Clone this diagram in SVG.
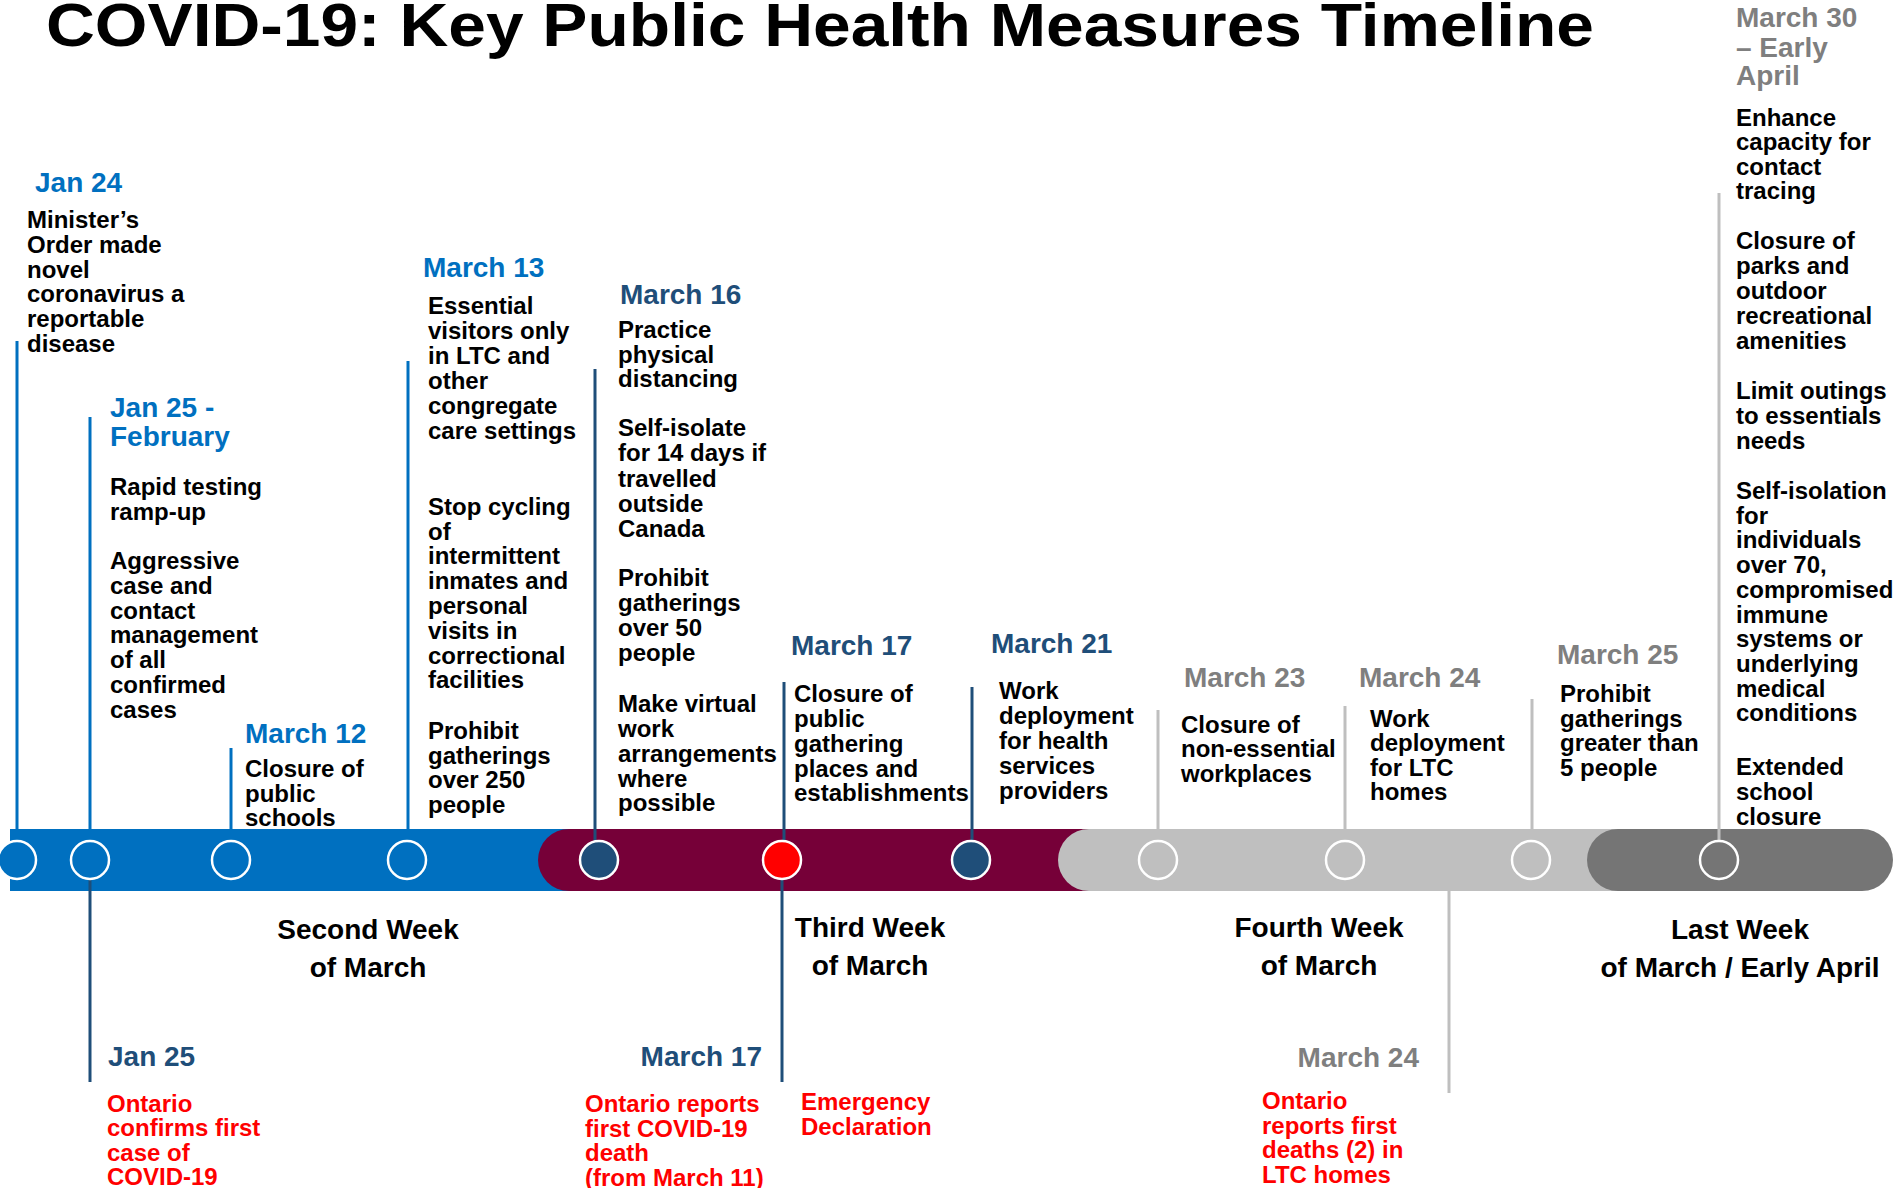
<svg xmlns="http://www.w3.org/2000/svg" width="1901" height="1188" viewBox="0 0 1901 1188">
<style>
text{font-family:"Liberation Sans",Arial,sans-serif;font-weight:700}
.title{font-size:61px;fill:#000}
.b{font-size:24px;fill:#000}
.d{font-size:28px}
.c1{fill:#0070C0}
.c2{fill:#1F4E79}
.c3{fill:#7F7F7F}
.red{font-size:24px;fill:#FF0000}
.wk{font-size:28px;fill:#000;text-anchor:middle}
.ln{stroke-width:3;fill:none}
.lb{stroke:#0070C0}
.ld{stroke:#1F4E79}
.lg{stroke:#BFBFBF}
.dot{stroke:#fff;stroke-width:2.5}
</style>
<rect width="1901" height="1188" fill="#fff"/>
<text class="title" x="46" y="46" textLength="1548" lengthAdjust="spacingAndGlyphs">COVID-19: Key Public Health Measures Timeline</text>

<g id="bar">
<rect x="10" y="829" width="600" height="62" fill="#0070C0"/>
<rect x="538" y="829" width="590" height="62" rx="31" fill="#760038"/>
<rect x="1058" y="829" width="600" height="62" rx="31" fill="#BFBFBF"/>
<rect x="1587" y="829" width="306" height="62" rx="31" fill="#757575"/>
</g>

<g id="connectors">
<line class="ln lb" x1="17" y1="341" x2="17" y2="860"/>
<line class="ln lb" x1="90" y1="417" x2="90" y2="860"/>
<line class="ln lb" x1="231" y1="748" x2="231" y2="860"/>
<line class="ln lb" x1="408" y1="361" x2="408" y2="860"/>
<line class="ln ld" x1="595" y1="369" x2="595" y2="860"/>
<line class="ln ld" x1="784" y1="682" x2="784" y2="860"/>
<line class="ln ld" x1="972" y1="687" x2="972" y2="860"/>
<line class="ln lg" x1="1158" y1="710" x2="1158" y2="860"/>
<line class="ln lg" x1="1345" y1="706" x2="1345" y2="860"/>
<line class="ln lg" x1="1532" y1="699" x2="1532" y2="860"/>
<line class="ln lg" x1="1719" y1="193" x2="1719" y2="860"/>
<line class="ln ld" x1="90" y1="860" x2="90" y2="1082"/>
<line class="ln ld" x1="782" y1="860" x2="782" y2="1082"/>
<line class="ln lg" x1="1449" y1="891" x2="1449" y2="1093"/>
</g>

<g id="weeks">
<text class="wk"><tspan x="368" y="939">Second Week</tspan><tspan x="368" y="977">of March</tspan></text>
<text class="wk"><tspan x="870" y="937">Third Week</tspan><tspan x="870" y="975">of March</tspan></text>
<text class="wk"><tspan x="1319" y="937">Fourth Week</tspan><tspan x="1319" y="975">of March</tspan></text>
<text class="wk"><tspan x="1740" y="939">Last Week</tspan><tspan x="1740" y="977">of March / Early April</tspan></text>
</g>

<g id="jan24">
<circle class="dot" cx="17" cy="860" r="19" fill="#0070C0"/>
<text class="d c1" x="35" y="192">Jan 24</text>
<text class="b"><tspan x="27" y="228">Minister’s</tspan><tspan x="27" y="252.8">Order made</tspan><tspan x="27" y="277.6">novel</tspan><tspan x="27" y="302.4">coronavirus a</tspan><tspan x="27" y="327.2">reportable</tspan><tspan x="27" y="352">disease</tspan></text>
</g>

<g id="jan25feb">
<circle class="dot" cx="90" cy="860" r="19" fill="#0070C0"/>
<text class="d c1"><tspan x="110" y="417">Jan 25 -</tspan><tspan x="110" y="446">February</tspan></text>
<text class="b"><tspan x="110" y="495">Rapid testing</tspan><tspan x="110" y="519.6">ramp-up</tspan>
<tspan x="110" y="569.3">Aggressive</tspan><tspan x="110" y="594">case and</tspan><tspan x="110" y="618.7">contact</tspan><tspan x="110" y="643.4">management</tspan><tspan x="110" y="668.1">of all</tspan><tspan x="110" y="692.8">confirmed</tspan><tspan x="110" y="717.5">cases</tspan></text>
</g>

<g id="jan25">
<text class="d c2" x="108" y="1066">Jan 25</text>
<text class="red"><tspan x="107" y="1111.7">Ontario</tspan><tspan x="107" y="1136">confirms first</tspan><tspan x="107" y="1160.7">case of</tspan><tspan x="107" y="1185">COVID-19</tspan></text>
</g>

<g id="mar12">
<circle class="dot" cx="231" cy="860" r="19" fill="#0070C0"/>
<text class="d c1" x="245" y="743">March 12</text>
<text class="b"><tspan x="245" y="777.3">Closure of</tspan><tspan x="245" y="801.7">public</tspan><tspan x="245" y="825.7">schools</tspan></text>
</g>

<g id="mar13">
<circle class="dot" cx="407" cy="860" r="19" fill="#0070C0"/>
<text class="d c1" x="423" y="277">March 13</text>
<text class="b"><tspan x="428" y="313.9">Essential</tspan><tspan x="428" y="338.9">visitors only</tspan><tspan x="428" y="363.9">in LTC and</tspan><tspan x="428" y="388.9">other</tspan><tspan x="428" y="413.9">congregate</tspan><tspan x="428" y="438.9">care settings</tspan>
<tspan x="428" y="514.8">Stop cycling</tspan><tspan x="428" y="539.6">of</tspan><tspan x="428" y="564.4">intermittent</tspan><tspan x="428" y="589.2">inmates and</tspan><tspan x="428" y="614">personal</tspan><tspan x="428" y="638.8">visits in</tspan><tspan x="428" y="663.6">correctional</tspan><tspan x="428" y="688.4">facilities</tspan>
<tspan x="428" y="738.7">Prohibit</tspan><tspan x="428" y="763.5">gatherings</tspan><tspan x="428" y="788.3">over 250</tspan><tspan x="428" y="813">people</tspan></text>
</g>

<g id="mar16">
<circle class="dot" cx="599" cy="860" r="19" fill="#1F4E79"/>
<text class="d c2" x="620" y="304">March 16</text>
<text class="b"><tspan x="618" y="338.4">Practice</tspan><tspan x="618" y="362.5">physical</tspan><tspan x="618" y="386.6">distancing</tspan>
<tspan x="618" y="436.3">Self-isolate</tspan><tspan x="618" y="461.4">for 14 days if</tspan><tspan x="618" y="486.5">travelled</tspan><tspan x="618" y="511.6">outside</tspan><tspan x="618" y="536.6">Canada</tspan>
<tspan x="618" y="586.3">Prohibit</tspan><tspan x="618" y="611.2">gatherings</tspan><tspan x="618" y="636.1">over 50</tspan><tspan x="618" y="661">people</tspan>
<tspan x="618" y="711.5">Make virtual</tspan><tspan x="618" y="736.5">work</tspan><tspan x="618" y="761.5">arrangements</tspan><tspan x="618" y="786.5">where</tspan><tspan x="618" y="811.4">possible</tspan></text>
</g>

<g id="mar17">
<circle class="dot" cx="782" cy="860" r="19" fill="#FF0000"/>
<text class="d c2" x="791" y="654.5">March 17</text>
<text class="b"><tspan x="794" y="702.3">Closure of</tspan><tspan x="794" y="727.1">public</tspan><tspan x="794" y="751.9">gathering</tspan><tspan x="794" y="776.7">places and</tspan><tspan x="794" y="801.4">establishments</tspan></text>
</g>

<g id="mar17below">
<text class="d c2" x="762" y="1066" text-anchor="end">March 17</text>
<text class="red"><tspan x="585" y="1112">Ontario reports</tspan><tspan x="585" y="1136.5">first COVID-19</tspan><tspan x="585" y="1161">death</tspan><tspan x="585" y="1185.5">(from March 11)</tspan></text>
<text class="red"><tspan x="801" y="1110">Emergency</tspan><tspan x="801" y="1135">Declaration</tspan></text>
</g>

<g id="mar21">
<circle class="dot" cx="971" cy="860" r="19" fill="#1F4E79"/>
<text class="d c2" x="991" y="653.3">March 21</text>
<text class="b"><tspan x="999" y="699.3">Work</tspan><tspan x="999" y="724.3">deployment</tspan><tspan x="999" y="749.3">for health</tspan><tspan x="999" y="774.3">services</tspan><tspan x="999" y="799.3">providers</tspan></text>
</g>

<g id="mar23">
<circle class="dot" cx="1158" cy="860" r="19" fill="#BFBFBF"/>
<text class="d c3" x="1184" y="687">March 23</text>
<text class="b"><tspan x="1181" y="732.7">Closure of</tspan><tspan x="1181" y="757.2">non-essential</tspan><tspan x="1181" y="781.7">workplaces</tspan></text>
</g>

<g id="mar24">
<circle class="dot" cx="1345" cy="860" r="19" fill="#BFBFBF"/>
<text class="d c3" x="1359" y="687">March 24</text>
<text class="b"><tspan x="1370" y="726.7">Work</tspan><tspan x="1370" y="751.1">deployment</tspan><tspan x="1370" y="775.5">for LTC</tspan><tspan x="1370" y="800">homes</tspan></text>
</g>

<g id="mar24below">
<text class="d c3" x="1419" y="1066.7" text-anchor="end">March 24</text>
<text class="red"><tspan x="1262" y="1109">Ontario</tspan><tspan x="1262" y="1133.5">reports first</tspan><tspan x="1262" y="1158">deaths (2) in</tspan><tspan x="1262" y="1182.7">LTC homes</tspan></text>
</g>

<g id="mar25">
<circle class="dot" cx="1531" cy="860" r="19" fill="#BFBFBF"/>
<text class="d c3" x="1557" y="664">March 25</text>
<text class="b"><tspan x="1560" y="702">Prohibit</tspan><tspan x="1560" y="726.5">gatherings</tspan><tspan x="1560" y="751">greater than</tspan><tspan x="1560" y="775.5">5 people</tspan></text>
</g>

<g id="mar30">
<circle class="dot" cx="1719" cy="860" r="19" fill="#757575"/>
<text class="d c3"><tspan x="1736" y="27">March 30</tspan><tspan x="1736" y="56.5">– Early</tspan><tspan x="1736" y="85">April</tspan></text>
<text class="b"><tspan x="1736" y="126">Enhance</tspan><tspan x="1736" y="150.4">capacity for</tspan><tspan x="1736" y="174.8">contact</tspan><tspan x="1736" y="199.3">tracing</tspan>
<tspan x="1736" y="249.3">Closure of</tspan><tspan x="1736" y="274.3">parks and</tspan><tspan x="1736" y="299.3">outdoor</tspan><tspan x="1736" y="324.3">recreational</tspan><tspan x="1736" y="349.3">amenities</tspan>
<tspan x="1736" y="399.3">Limit outings</tspan><tspan x="1736" y="424.1">to essentials</tspan><tspan x="1736" y="449">needs</tspan>
<tspan x="1736" y="499">Self-isolation</tspan><tspan x="1736" y="523.7">for</tspan><tspan x="1736" y="548.4">individuals</tspan><tspan x="1736" y="573.1">over 70,</tspan><tspan x="1736" y="597.8">compromised</tspan><tspan x="1736" y="622.5">immune</tspan><tspan x="1736" y="647.2">systems or</tspan><tspan x="1736" y="671.9">underlying</tspan><tspan x="1736" y="696.6">medical</tspan><tspan x="1736" y="721.3">conditions</tspan>
<tspan x="1736" y="774.6">Extended</tspan><tspan x="1736" y="799.6">school</tspan><tspan x="1736" y="824.7">closure</tspan></text>
</g>
</svg>
